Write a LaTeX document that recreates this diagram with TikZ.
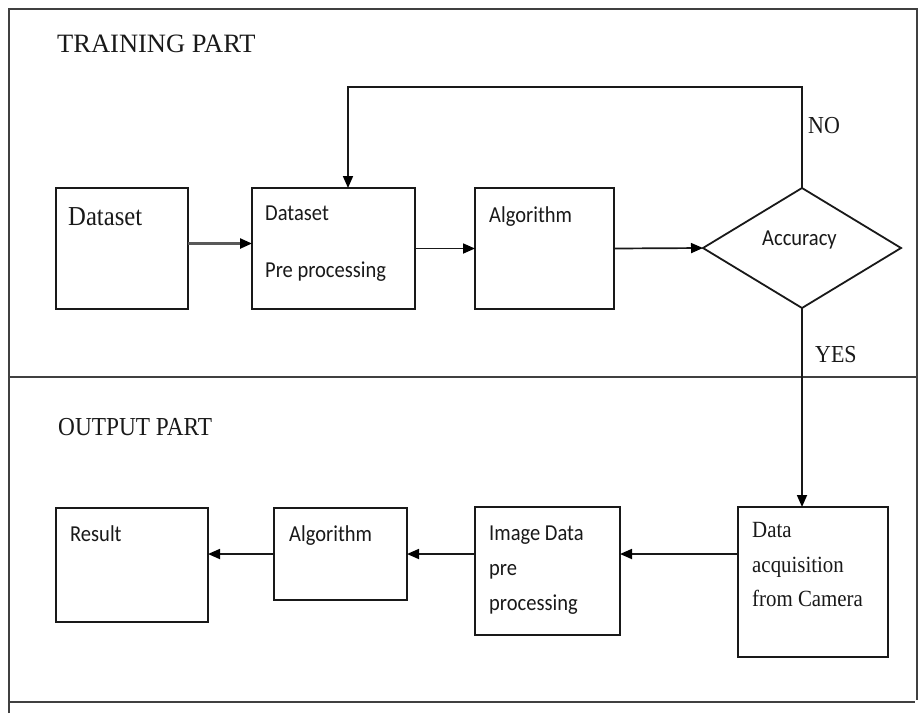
\documentclass[tikz,border=0pt]{standalone}
\usepackage{fontspec}
\usetikzlibrary{arrows.meta,shapes.geometric}
\newfontfamily\srfplain{Liberation Serif}
\newfontfamily\srf[FakeStretch=0.9]{Liberation Serif}
\newfontfamily\snf[FakeStretch=0.9]{Carlito}
\tikzset{
  frameline/.style={line width=1.8pt, draw=black!75},
  box/.style={draw=black!90, line width=1.8pt, inner sep=0pt, outer sep=0pt},
  arr/.style={-{Triangle[length=12pt,width=10pt,black]}, line width=1.7pt, draw=black!90},
  lbl/.style={anchor=base west, inner sep=0pt, text=black!90},
  sanstxt/.style={lbl, font=\snf\fontsize{22.8}{24}\selectfont},
  seriftxt/.style={lbl, font=\srf\fontsize{23.2}{24}\selectfont},
}
\begin{document}
\begin{tikzpicture}[x=1pt,y=-1pt]
\useasboundingbox (0,0) rectangle (920,713);
\fill[white] (0,0) rectangle (920,713);
% frame
\draw[frameline] (9,713) -- (9,9) -- (917,9) -- (917,700);
\draw[frameline] (9,702) -- (915,702);
\draw[frameline] (9,377) -- (917,377);
% section titles
\node[lbl, font=\srfplain\fontsize{26.5}{28}\selectfont] (ttrain) at (57,52) {TRAINING PART};
\node[lbl, font=\srf\fontsize{25.9}{28}\selectfont] (tout) at (58,435) {OUTPUT PART};
% training boxes
\node[box, minimum width=132pt, minimum height=121pt] (ds) at (122,248.5) {};
\node[box, minimum width=163pt, minimum height=121pt] (pre) at (333.5,248.5) {};
\node[box, minimum width=139pt, minimum height=121pt] (alg) at (544.5,248.5) {};
\node[box, shape=diamond, minimum width=198pt, minimum height=120pt] (acc) at (802,248) {};
% output boxes
\node[box, minimum width=152pt, minimum height=114pt] (res) at (132,565) {};
\node[box, minimum width=133pt, minimum height=92pt] (alg2) at (340.5,554) {};
\node[box, minimum width=145pt, minimum height=128pt] (img) at (547.5,571) {};
\node[box, minimum width=150pt, minimum height=150pt] (daq) at (813,582) {};
% texts
\node[lbl, font=\srf\fontsize{27.4}{28}\selectfont] (tds) at (68,225) {Dataset};
\node[sanstxt] (tpre1) at (265,220) {Dataset};
\node[sanstxt] (tpre2) at (265,277) {Pre processing};
\node[sanstxt] (talg) at (489,222) {Algorithm};
\node[sanstxt] (tacc) at (762,245) {Accuracy};
\node[lbl, font=\srf\fontsize{24.4}{26}\selectfont] (tno) at (808,133) {NO};
\node[lbl, font=\srf\fontsize{24.4}{26}\selectfont] (tyes) at (815,362) {YES};
\node[sanstxt] (tres) at (70,541) {Result};
\node[sanstxt] (talg2) at (289,541) {Algorithm};
\node[sanstxt] (timg1) at (489,540) {Image Data};
\node[sanstxt] (timg2) at (489,575) {pre};
\node[sanstxt] (timg3) at (489,610) {processing};
\node[seriftxt] (tdaq1) at (752,537) {Data};
\node[seriftxt] (tdaq2) at (752,572) {acquisition};
\node[seriftxt] (tdaq3) at (752,606) {from Camera};
% connectors
\coordinate (lp) at (348,87);
\coordinate (ya) at (0,554);
\draw[arr, draw=black!65, line width=2.4pt] ([yshift=5pt]ds.east) -- ([yshift=5pt]pre.west);
\draw[arr] (pre.east) -- (alg.west);
\draw[arr] (alg.east) -- (acc.west);
\draw[arr] (acc.north) |- (lp) -- (lp |- pre.north);
\draw[arr] (acc.south) -- (acc.south |- daq.north);
\draw[arr] (daq.west |- ya) -- (img.east |- ya);
\draw[arr] (img.west |- alg2.west) -- (alg2.east);
\draw[arr] (alg2.west) -- (res.east |- alg2.west);
\end{tikzpicture}
\end{document}
